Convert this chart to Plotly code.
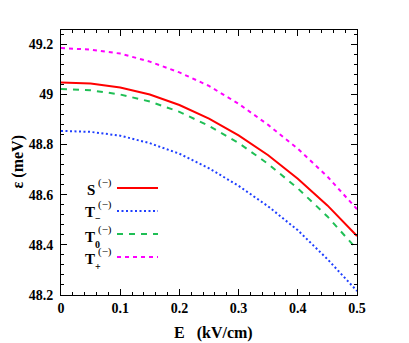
import plotly.graph_objects as go

E = [0.0, 0.05, 0.1, 0.15, 0.2, 0.25, 0.3, 0.35, 0.4, 0.45, 0.5]
S_minus = [49.047, 49.043, 49.027, 48.999, 48.957, 48.903, 48.836, 48.757, 48.663, 48.557, 48.435]
T_minus = [48.854, 48.850, 48.835, 48.805, 48.763, 48.705, 48.635, 48.553, 48.458, 48.343, 48.216]
T_zero = [49.021, 49.016, 48.999, 48.971, 48.930, 48.874, 48.806, 48.722, 48.625, 48.513, 48.382]
T_plus = [49.184, 49.178, 49.162, 49.130, 49.087, 49.033, 48.962, 48.878, 48.783, 48.672, 48.542]

x_ticks = [0, 0.1, 0.2, 0.3, 0.4, 0.5]
y_ticks = [48.2, 48.4, 48.6, 48.8, 49.0, 49.2]

series = [
    ("S", "", S_minus, "#ff0000", "solid"),
    ("T", "−", T_minus, "#1f3fff", "2px,2.5px"),
    ("T", "0", T_zero, "#1fbf55", "6px,6px"),
    ("T", "+", T_plus, "#ff00ff", "4px,4px"),
]

FONT = "Liberation Serif"
OFF = 8  # page body margin
W, H = 409, 343
# plot area in window pixels: x 61..357, y 30..295
PX0, PX1, PY0, PY1 = 61, 357, 30, 295
L, T = PX0 - OFF, PY0 - OFF
pw, ph = PX1 - PX0, PY1 - PY0
R, B = W - L - pw, H - T - ph

def px2paper(px, py):
    # window pixel -> paper coords
    return (px - PX0) / pw, (PY1 - py) / ph

fig = go.Figure()
for name, sub, ys, col, dash in series:
    fig.add_trace(go.Scatter(x=E, y=ys, mode="lines",
                             line=dict(color=col, width=2, dash=dash),
                             showlegend=False))

# legend (gnuplot style: label on left, sample on right)
line_y = [188, 211, 234, 257]
label_y = [189.5, 211.5, 237, 259]
for (name, sub, ys, col, dash), py, ly in zip(series, line_y, label_y):
    x0, _ = px2paper(117, py)
    x1, yy = px2paper(158, py)
    fig.add_shape(type="line", xref="paper", yref="paper", x0=x0, x1=x1, y0=yy, y1=yy,
                  line=dict(color=col, width=2, dash=dash))
    tx, ty = px2paper(96.5, ly)
    fig.add_annotation(xref="paper", yref="paper", x=tx, y=ty, xanchor="right", yanchor="middle",
                       text="<b>%s</b>" % name, showarrow=False,
                       font=dict(family=FONT, size=15, color="black"))
    sx, sy = px2paper(96, ly - 7.5)
    fig.add_annotation(xref="paper", yref="paper", x=sx, y=sy, xanchor="left", yanchor="middle",
                       text="(−)", showarrow=False,
                       font=dict(family=FONT, size=11, color="black"))
    if sub:
        bx, by = px2paper(92.5, ly + 7)
        fig.add_annotation(xref="paper", yref="paper", x=bx, y=by, xanchor="left", yanchor="middle",
                           text="<b>%s</b>" % sub, showarrow=False,
                           font=dict(family=FONT, size=10, color="black"))

# axis titles
ax, ay = px2paper(213, 333)
fig.add_annotation(xref="paper", yref="paper", x=ax, y=ay, xanchor="center", yanchor="middle",
                   text="<b>E   (kV/cm)</b>", showarrow=False,
                   font=dict(family=FONT, size=16, color="black"))
bx, by = px2paper(17, 162.5)
fig.add_annotation(xref="paper", yref="paper", x=bx, y=by, xanchor="center", yanchor="middle",
                   text="<b>ε (meV)</b>", showarrow=False, textangle=-90,
                   font=dict(family=FONT, size=16, color="black"))

axis_common = dict(
    showline=True, linecolor="black", linewidth=1, mirror="allticks",
    ticks="inside", ticklen=6, tickcolor="black", tickwidth=1,
    showgrid=False, zeroline=False, automargin=False,
    tickfont=dict(family=FONT, size=14, color="black"),
)

fig.update_xaxes(range=[0, 0.5], tickvals=x_ticks, ticktext=["<b>%g</b>" % v for v in x_ticks],
                 minor=dict(dtick=0.02, ticks="inside", ticklen=3, tickcolor="black"),
                 **axis_common)
fig.update_yaxes(range=[48.2, 49.256], tickvals=y_ticks, ticktext=["<b>%g</b>" % v for v in y_ticks],
                 minor=dict(dtick=0.04, ticks="inside", ticklen=3, tickcolor="black"),
                 ticklabelstandoff=4,
                 **axis_common)

fig.update_layout(width=W, height=H, margin=dict(l=L, r=R, t=T, b=B),
                  plot_bgcolor="white", paper_bgcolor="white", showlegend=False)

fig.write_html("out.html")
